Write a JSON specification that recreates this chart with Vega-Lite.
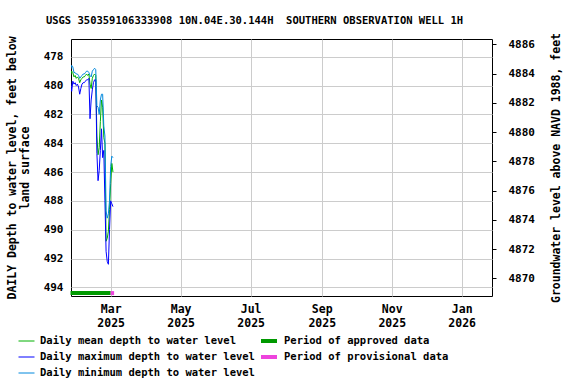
{
  "$schema": "https://vega.github.io/schema/vega-lite/v6.json",
  "autosize": {"type": "none"},
  "width": 421,
  "height": 257,
  "padding": {"left": 71, "top": 39, "right": 84, "bottom": 88},
  "background": "white",
  "config": {
    "font": "DejaVu Sans Mono",
    "view": {"stroke": "black", "strokeWidth": 1},
    "axis": {"labelFont": "DejaVu Sans Mono", "labelFontWeight": "bold", "labelFontSize": 11, "labelColor": "black", "titleFont": "DejaVu Sans Mono", "titleFontWeight": "bold", "titleFontSize": 11.5, "titleColor": "black", "gridColor": "#cccccc", "tickColor": "black", "domain": false, "labelOverlap": false},
    "legend": {"labelFont": "DejaVu Sans Mono", "labelFontWeight": "bold", "labelFontSize": 10.5, "labelColor": "black", "labelLimit": 400}
  },
  "title": {"text": "USGS 350359106333908 10N.04E.30.144H\u00a0 SOUTHERN OBSERVATION WELL 1H", "font": "DejaVu Sans Mono", "fontSize": 10.5, "fontWeight": "bold", "color": "black", "anchor": "middle", "dx": -27, "offset": 6},
  "datasets": {
    "daily": [
      {"date": "2025-01-25", "mean": 479.3, "max": 479.6, "min": 478.9},
      {"date": "2025-01-26", "mean": 479.0, "max": 480.4, "min": 478.6},
      {"date": "2025-01-27", "mean": 479.1, "max": 479.7, "min": 478.7},
      {"date": "2025-01-28", "mean": 479.4, "max": 479.9, "min": 479.1},
      {"date": "2025-01-29", "mean": 479.3, "max": 479.8, "min": 479.1},
      {"date": "2025-01-30", "mean": 479.5, "max": 480.0, "min": 479.2},
      {"date": "2025-01-31", "mean": 479.4, "max": 479.9, "min": 479.2},
      {"date": "2025-02-01", "mean": 479.5, "max": 480.1, "min": 479.3},
      {"date": "2025-02-02", "mean": 479.8, "max": 480.6, "min": 479.5},
      {"date": "2025-02-03", "mean": 479.6, "max": 480.2, "min": 479.4},
      {"date": "2025-02-04", "mean": 479.5, "max": 479.9, "min": 479.3},
      {"date": "2025-02-05", "mean": 479.4, "max": 479.8, "min": 479.2},
      {"date": "2025-02-06", "mean": 479.4, "max": 479.8, "min": 479.2},
      {"date": "2025-02-07", "mean": 479.3, "max": 479.7, "min": 479.1},
      {"date": "2025-02-08", "mean": 479.2, "max": 479.6, "min": 479.0},
      {"date": "2025-02-09", "mean": 479.3, "max": 479.6, "min": 479.0},
      {"date": "2025-02-10", "mean": 479.2, "max": 479.5, "min": 479.1},
      {"date": "2025-02-11", "mean": 479.9, "max": 482.3, "min": 479.3},
      {"date": "2025-02-12", "mean": 480.2, "max": 481.0, "min": 479.4},
      {"date": "2025-02-13", "mean": 479.5, "max": 480.3, "min": 479.0},
      {"date": "2025-02-14", "mean": 479.3, "max": 479.8, "min": 478.9},
      {"date": "2025-02-15", "mean": 479.2, "max": 479.6, "min": 478.8},
      {"date": "2025-02-16", "mean": 479.3, "max": 479.6, "min": 478.9},
      {"date": "2025-02-17", "mean": 483.5, "max": 484.7, "min": 481.4},
      {"date": "2025-02-18", "mean": 484.8, "max": 486.6, "min": 481.5},
      {"date": "2025-02-19", "mean": 484.3, "max": 485.9, "min": 482.0},
      {"date": "2025-02-20", "mean": 482.5, "max": 484.5, "min": 481.0},
      {"date": "2025-02-21", "mean": 481.0, "max": 483.0, "min": 480.6},
      {"date": "2025-02-22", "mean": 481.5, "max": 485.0, "min": 480.6},
      {"date": "2025-02-23", "mean": 483.6, "max": 484.5, "min": 482.8},
      {"date": "2025-02-24", "mean": 484.0, "max": 488.0, "min": 483.5},
      {"date": "2025-02-25", "mean": 490.8, "max": 491.5, "min": 488.7},
      {"date": "2025-02-26", "mean": 490.6, "max": 492.2, "min": 489.2},
      {"date": "2025-02-27", "mean": 490.1, "max": 492.4, "min": 488.9},
      {"date": "2025-02-28", "mean": 488.6, "max": 490.0, "min": 488.0},
      {"date": "2025-03-01", "mean": 486.8, "max": 488.0, "min": 485.6},
      {"date": "2025-03-02", "mean": 485.4, "max": 488.2, "min": 484.9},
      {"date": "2025-03-03", "mean": 486.0, "max": 488.4, "min": 485.0}
    ],
    "periods": [
      {"start": "2025-01-25", "end": "2025-03-01", "period": "Period of approved data"},
      {"start": "2025-03-01", "end": "2025-03-04", "period": "Period of provisional data"}
    ]
  },
  "layer": [
    {
      "layer": [
        {
          "data": {"name": "daily"},
          "transform": [
            {"fold": ["mean", "max", "min"], "as": ["stat", "depth"]},
            {"lookup": "stat", "from": {"data": {"values": [
              {"stat": "mean", "label": "Daily mean depth to water level", "ord": 0},
              {"stat": "max", "label": "Daily maximum depth to water level", "ord": 1},
              {"stat": "min", "label": "Daily minimum depth to water level", "ord": 2}
            ]}, "key": "stat", "fields": ["label", "ord"]}}
          ],
          "mark": {"type": "line", "strokeWidth": 1, "clip": true},
          "encoding": {
            "x": {"field": "date", "type": "temporal",
              "scale": {"type": "utc", "domain": [{"year": 2025, "month": 1, "date": 25, "hours": 10, "utc": true}, {"year": 2026, "month": 1, "date": 27, "hours": 10, "utc": true}]},
              "axis": {"title": null, "values": [
                {"year": 2025, "month": 3, "date": 1, "utc": true},
                {"year": 2025, "month": 5, "date": 1, "utc": true},
                {"year": 2025, "month": 7, "date": 1, "utc": true},
                {"year": 2025, "month": 9, "date": 1, "utc": true},
                {"year": 2025, "month": 11, "date": 1, "utc": true},
                {"year": 2026, "month": 1, "date": 1, "utc": true}
              ], "labelExpr": "[utcFormat(datum.value, '%b'), utcFormat(datum.value, '%Y')]", "labelFontSize": 11.5, "labelLineHeight": 14, "ticks": false, "labelPadding": 7, "grid": true}},
            "y": {"field": "depth", "type": "quantitative",
              "scale": {"domain": [476.77, 494.6], "reverse": true, "zero": false, "nice": false},
              "axis": {"title": ["DAILY Depth to water level, feet below", "land surface"], "values": [478, 480, 482, 484, 486, 488, 490, 492, 494], "labelOverlap": false, "grid": true, "ticks": false, "labelPadding": 8, "titlePadding": 13, "titleLineHeight": 13}},
            "color": {"field": "label", "type": "nominal",
              "scale": {"domain": ["Daily mean depth to water level", "Daily maximum depth to water level", "Daily minimum depth to water level"], "range": ["#00b000", "#0000ff", "#0088dd"]},
              "legend": {"title": null, "orient": "none", "legendX": -53, "legendY": 294, "symbolType": "stroke", "symbolSize": 256, "symbolStrokeWidth": 1, "clipHeight": 16, "rowPadding": 0, "labelOffset": 5, "padding": 0, "direction": "vertical"}},
            "order": {"field": "date", "type": "temporal"},
            "detail": {"field": "ord", "type": "nominal"}
          }
        },
        {
          "data": {"name": "periods"},
          "mark": {"type": "rule", "strokeWidth": 4},
          "encoding": {
            "x": {"field": "start", "type": "temporal"},
            "x2": {"field": "end"},
            "y": {"datum": 494.4, "type": "quantitative",
              "axis": {"title": ["DAILY Depth to water level, feet below", "land surface"], "values": [478, 480, 482, 484, 486, 488, 490, 492, 494], "labelOverlap": false, "grid": true, "ticks": false, "labelPadding": 8, "titlePadding": 13, "titleLineHeight": 13}},
            "color": {"field": "period", "type": "nominal",
              "scale": {"domain": ["Period of approved data", "Period of provisional data"], "range": ["#009900", "#ee44dd"]},
              "legend": {"title": null, "orient": "none", "legendX": 188, "legendY": 294, "symbolType": "stroke", "symbolSize": 256, "symbolStrokeWidth": 4, "clipHeight": 16, "rowPadding": 0, "labelOffset": 5, "padding": 0, "direction": "vertical"}}
          }
        }
      ],
      "resolve": {"scale": {"color": "independent"}}
    },
    {
      "mark": {"type": "rule", "opacity": 0},
      "encoding": {
        "y": {"datum": 4870, "type": "quantitative",
          "scale": {"domain": [4868.79, 4886.36], "zero": false, "nice": false},
          "axis": {"orient": "right", "title": "Groundwater level above NAVD 1988, feet", "titleAngle": -90, "format": "d", "values": [4870, 4872, 4874, 4876, 4878, 4880, 4882, 4884, 4886], "grid": false, "tickSize": 4, "labelPadding": 12, "titlePadding": 27}}
      }
    }
  ],
  "resolve": {"scale": {"y": "independent"}}
}
